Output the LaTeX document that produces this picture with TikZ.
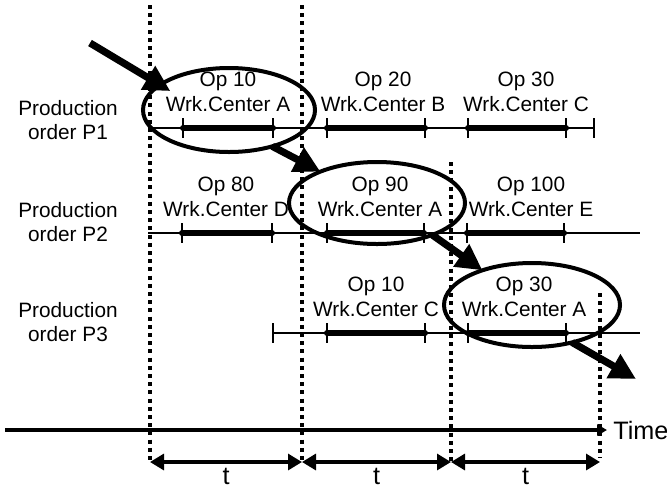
\documentclass[tikz,border=0pt]{standalone}
\usepackage{fontspec}
\setmainfont{Liberation Sans}
\usetikzlibrary{arrows.meta,calc,shapes.geometric}

\tikzset{
  oplabel/.style={align=center,inner sep=0pt},
  rowlabel/.style={align=center,inner sep=0pt},
  opring/.style={draw,ellipse,line width=2pt,inner sep=0pt,outer sep=0pt},
  flowarrow/.style={-{Triangle[length=13pt,width=13pt]},line width=3.6pt},
  dotline/.style={line width=2.1pt,dash pattern=on 2pt off 2.1pt},
  timeline/.style={line width=1pt},
  opbar/.style={line width=3pt,line cap=round},
  tickmark/.style={line width=1pt},
  dimarrow/.style={{Triangle[length=7pt,width=8pt]}-{Triangle[length=7pt,width=8pt]},line width=1.6pt},
  axislabel/.style={font=\fontsize{12.6}{14}\selectfont}
}

\begin{document}
\begin{tikzpicture}[x=0.5pt,y=-0.5pt,font=\fontsize{10.4}{12.4}\selectfont]
\useasboundingbox (0,0) rectangle (667,488);

% period boundaries
\coordinate (d1) at (150,462);
\coordinate (d2) at (302,462);
\coordinate (d3) at (451,462);
\coordinate (d4) at (600,462);
\draw[dotline] (150,5) -- (d1);
\draw[dotline] (302,5) -- (d2);
\draw[dotline] (451,162) -- (d3);
\draw[dotline] (600,293) -- ($(d4)+(0,-4)$);

% order P1
\node[rowlabel] (p1) at (68,120) {Production\\order P1};
\draw[timeline] (148,128) -- (594,128);
\foreach \a/\b in {183/273,327/425,468/566}
  \draw[opbar] (\a,128) -- (\b,128);
\foreach \x in {183,273,327,425,468,566,594}
  \draw[tickmark] (\x,118) -- (\x,138);
\node[oplabel] (op10) at (228,92) {Op 10\\Wrk.Center A};
\node[oplabel] (op20) at (383,92) {Op 20\\Wrk.Center B};
\node[oplabel] (op30) at (526,92) {Op 30\\Wrk.Center C};

% order P2
\node[rowlabel] (p2) at (68,222) {Production\\order P2};
\draw[timeline] (148,233) -- (640,233);
\foreach \a/\b in {182/272,327/424,467/564}
  \draw[opbar] (\a,233) -- (\b,233);
\foreach \x in {182,272,327,424,467,564}
  \draw[tickmark] (\x,223) -- (\x,243);
\node[oplabel] (op80) at (226,197) {Op 80\\Wrk.Center D};
\node[oplabel] (op90) at (380,197) {Op 90\\Wrk.Center A};
\node[oplabel] (op100) at (531,197) {Op 100\\Wrk.Center E};

% order P3
\node[rowlabel] (p3) at (68,322) {Production\\order P3};
\draw[timeline] (273,333) -- (640,333);
\foreach \a/\b in {327/425,468/566}
  \draw[opbar] (\a,333) -- (\b,333);
\foreach \x in {273,327,425,468,566}
  \draw[tickmark] (\x,323) -- (\x,343);
\node[oplabel] (op10b) at (376,297) {Op 10\\Wrk.Center C};
\node[oplabel] (op30b) at (524,297) {Op 30\\Wrk.Center A};

% work center A
\node[opring,minimum width=86pt,minimum height=42pt] (ringA1) at (229,110) {};
\node[opring,minimum width=88pt,minimum height=41pt] (ringA2) at (377,203) {};
\node[opring,minimum width=88pt,minimum height=42pt] (ringA3) at (532,305) {};
\coordinate (in) at (90,43);
\coordinate (out) at (636,379);
\draw[flowarrow,shorten >=-6pt] (in) -- (ringA1.160);
\draw[flowarrow] (ringA1.-40) -- (ringA2.151);
\draw[flowarrow] (ringA2.-30) -- (ringA3.145);
\draw[flowarrow] (ringA3.-43) -- (out);

% time axis
\coordinate (t0) at (5,430);
\node[axislabel,anchor=west,inner sep=3pt] (time) at (607,430) {Time};
\draw[line width=2pt,-{Triangle[length=5pt,width=5.5pt]}] (t0) -- (time.west);
\draw[dimarrow] (d1) -- node[axislabel,midway,below=-1pt] (tau1) {t} (d2);
\draw[dimarrow] (d2) -- node[axislabel,midway,below=-1pt] (tau2) {t} (d3);
\draw[dimarrow] (d3) -- node[axislabel,midway,below=-1pt] (tau3) {t} (d4);
\end{tikzpicture}
\end{document}
